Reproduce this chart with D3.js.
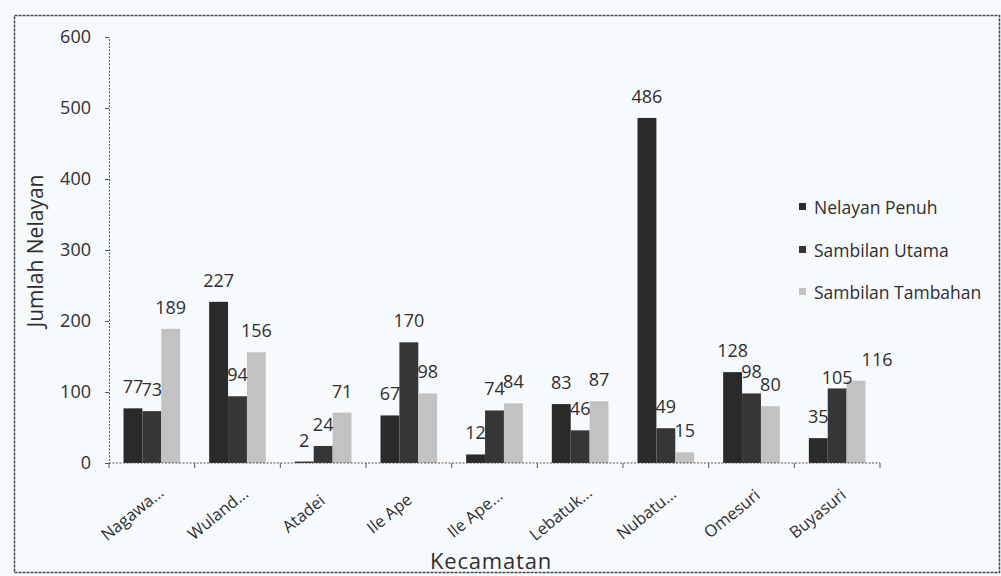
<!DOCTYPE html>
<html>
<head>
<meta charset="utf-8">
<script src="https://cdn.jsdelivr.net/npm/d3@7"></script>
<style>
  html, body { margin: 0; padding: 0; background: #f7fafc; }
  svg { display: block; }
  text { font-family: "Open Sans", "DejaVu Sans", sans-serif; fill: #2e2e2e; }
</style>
</head>
<body>
<svg id="chart" width="1001" height="576"></svg>
<script>
// Jumlah nelayan per kecamatan, by fisher category
const categories = ["Nagawa...", "Wuland...", "Atadei", "Ile Ape", "Ile Ape...", "Lebatuk...", "Nubatu...", "Omesuri", "Buyasuri"];
const seriesNames = ["Nelayan Penuh", "Sambilan Utama", "Sambilan Tambahan"];
const nelayanPenuh     = [77, 227, 2, 67, 12, 83, 486, 128, 35];
const sambilanUtama    = [73, 94, 24, 170, 74, 46, 49, 98, 105];
const sambilanTambahan = [189, 156, 71, 98, 84, 87, 15, 80, 116];
const yTicks = [0, 100, 200, 300, 400, 500, 600];
const seriesColors = ["#2a2a2a", "#363636", "#c2c2c2"];

const seriesValues = [nelayanPenuh, sambilanUtama, sambilanTambahan];
const svg = d3.select("#chart");

// outer frame
svg.append("rect")
  .attr("x", 14.5).attr("y", 15.5).attr("width", 985).attr("height", 557)
  .attr("fill", "none").attr("stroke", "#444").attr("stroke-width", 1.5)
  .attr("stroke-dasharray", "3,1");

const x0 = d3.scaleBand().domain(categories).range([109, 880]).paddingInner(0).paddingOuter(0);
const x1 = d3.scaleBand().domain(seriesNames).range([14.5, x0.bandwidth() - 14.5]).padding(0);
const y = d3.scaleLinear().domain([0, 600]).range([463, 37]);

// label nudges where neighbouring labels would collide
const labelNudge = { "Buyasuri|Sambilan Utama": [0, 11], "Buyasuri|Sambilan Tambahan": [21, 0] };

const cells = (c, i) => seriesNames.map((s, k) => ({ c, s, v: seriesValues[k][i] }));

// bars
const groups = svg.append("g").selectAll("g")
  .data(categories)
  .join("g")
  .attr("transform", d => `translate(${x0(d)},0)`);

groups.selectAll("rect")
  .data(cells)
  .join("rect")
  .attr("x", d => x1(d.s))
  .attr("y", d => y(d.v))
  .attr("width", x1.bandwidth())
  .attr("height", d => y(0) - y(d.v))
  .attr("fill", (d, k) => seriesColors[k]);

// value labels
groups.selectAll("text")
  .data(cells)
  .join("text")
  .attr("x", d => x1(d.s) + x1.bandwidth() / 2 + (labelNudge[d.c + "|" + d.s] || [0, 0])[0])
  .attr("y", d => y(d.v) - 15 + (labelNudge[d.c + "|" + d.s] || [0, 0])[1])
  .attr("text-anchor", "middle")
  .attr("font-size", 18)
  .text(d => d.v);

// y axis
const yAxis = svg.append("g")
  .attr("transform", "translate(109,0)")
  .call(d3.axisLeft(y).tickValues(yTicks).tickSize(4).tickPadding(14));
yAxis.select(".domain").attr("stroke", "#555").attr("stroke-dasharray", "2,1.5");
yAxis.selectAll(".tick line").attr("stroke", "#555");
yAxis.selectAll(".tick text")
  .attr("font-size", 18)
  .attr("font-family", "'Open Sans', sans-serif")
  .attr("fill", "#333");

// x axis baseline with ticks at category boundaries
svg.append("line")
  .attr("x1", 109).attr("x2", 880).attr("y1", y(0)).attr("y2", y(0))
  .attr("stroke", "#555").attr("stroke-dasharray", "2,1.5");
const boundaries = categories.map(c => x0(c)).concat([x0.range()[1]]);
svg.append("g").selectAll("line")
  .data(boundaries)
  .join("line")
  .attr("x1", d => d).attr("x2", d => d)
  .attr("y1", y(0)).attr("y2", y(0) + 5)
  .attr("stroke", "#555");

// rotated category labels
svg.append("g").selectAll("text")
  .data(categories)
  .join("text")
  .attr("transform", d => `translate(${x0(d) + x0.bandwidth() / 2 - 20},513) rotate(-39)`)
  .attr("text-anchor", "middle")
  .attr("dominant-baseline", "central")
  .attr("font-size", 16.5)
  .text(d => d);

// axis titles
svg.append("text")
  .attr("transform", "translate(35,251) rotate(-90)")
  .attr("text-anchor", "middle")
  .attr("dominant-baseline", "central")
  .attr("font-size", 21)
  .text("Jumlah Nelayan");

svg.append("text")
  .attr("x", 491).attr("y", 560)
  .attr("text-anchor", "middle")
  .attr("dominant-baseline", "central")
  .attr("font-size", 22)
  .attr("letter-spacing", 0.8)
  .text("Kecamatan");

// legend
const legend = svg.append("g").selectAll("g")
  .data(seriesNames)
  .join("g")
  .attr("transform", (d, i) => `translate(799,${[207, 250, 292][i]})`);
legend.append("rect")
  .attr("x", 0).attr("y", -4).attr("width", 7).attr("height", 7)
  .attr("fill", (d, i) => seriesColors[i]);
legend.append("text")
  .attr("x", 15).attr("y", 0)
  .attr("dominant-baseline", "central")
  .attr("font-size", 17.5)
  .text(d => d);
</script>
</body>
</html>
